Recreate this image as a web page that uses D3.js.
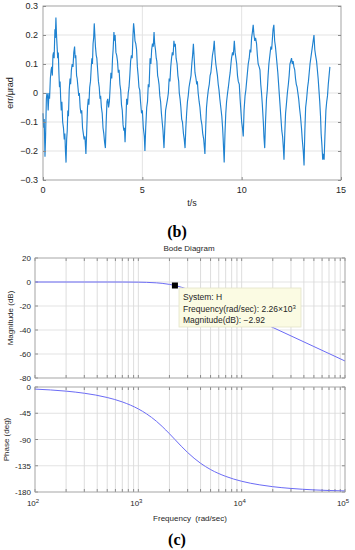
<!DOCTYPE html>
<html>
<head>
<meta charset="utf-8">
<script src="https://cdn.jsdelivr.net/npm/d3@7"></script>
<style>
  body { margin: 0; background: #fff; }
  text { font-family: "Liberation Sans", Arial, sans-serif; fill: #262626; }
</style>
</head>
<body>
<div id="chart"></div>
<script>

// (b) tracking error: [t (s), err (urad)]
var errPoints = [
  [0,-0.07],[0.03,-0.12],[0.06,-0.09],[0.1,-0.22],[0.13,-0.15],[0.17,-0.02],[0.2,0.0],[0.23,-0.01],[0.26,-0.06],[0.3,0.0],
  [0.33,-0.02],[0.37,0.05],[0.41,0.08],[0.44,0.09],[0.47,0.06],[0.5,0.13],[0.53,0.14],[0.56,0.12],[0.6,0.22],[0.62,0.19],
  [0.65,0.26],[0.68,0.2],[0.71,0.16],[0.74,0.12],[0.77,0.14],[0.8,0.07],[0.83,0.02],[0.86,0.04],[0.89,-0.02],[0.92,-0.06],
  [0.95,-0.03],[0.99,-0.1],[1.03,-0.12],[1.07,-0.16],[1.1,-0.14],[1.13,-0.2],[1.16,-0.24],[1.19,-0.16],[1.22,-0.13],[1.25,-0.06],
  [1.28,-0.08],[1.32,0.01],[1.36,0.05],[1.39,0.03],[1.43,0.08],[1.47,0.1],[1.51,0.09],[1.55,0.14],[1.59,0.16],[1.62,0.12],
  [1.65,0.13],[1.69,0.06],[1.72,0.05],[1.76,0.02],[1.8,-0.01],[1.83,0.0],[1.87,-0.05],[1.91,-0.07],[1.95,-0.06],[1.99,-0.12],
  [2.03,-0.14],[2.07,-0.16],[2.11,-0.15],[2.16,-0.21],[2.2,-0.13],[2.24,-0.05],[2.28,-0.02],[2.31,-0.04],[2.35,0.02],[2.39,0.04],
  [2.43,0.09],[2.46,0.12],[2.49,0.1],[2.52,0.17],[2.55,0.19],[2.58,0.24],[2.61,0.2],[2.64,0.16],[2.68,0.13],[2.71,0.12],
  [2.75,0.08],[2.79,0.04],[2.83,0.02],[2.87,-0.02],[2.9,-0.01],[2.94,-0.05],[2.98,-0.07],[3.02,-0.12],[3.06,-0.14],[3.1,-0.17],
  [3.14,-0.19],[3.18,-0.1],[3.22,-0.03],[3.26,-0.02],[3.3,-0.05],[3.34,-0.03],[3.38,0.02],[3.42,0.07],[3.46,0.05],[3.5,0.12],
  [3.53,0.15],[3.57,0.21],[3.6,0.18],[3.63,0.2],[3.67,0.14],[3.71,0.13],[3.75,0.11],[3.79,0.07],[3.83,0.08],[3.87,0.03],
  [3.91,0.01],[3.95,-0.04],[3.99,-0.06],[4.03,-0.11],[4.07,-0.13],[4.1,-0.12],[4.13,-0.17],[4.17,-0.1],[4.21,-0.02],[4.25,-0.04],
  [4.29,0.0],[4.33,0.02],[4.37,0.06],[4.41,0.11],[4.45,0.13],[4.49,0.12],[4.53,0.2],[4.56,0.24],[4.59,0.22],[4.63,0.18],
  [4.67,0.17],[4.71,0.15],[4.75,0.09],[4.79,0.06],[4.83,0.02],[4.87,0.01],[4.91,-0.03],[4.96,-0.07],[5.0,-0.06],[5.05,-0.12],
  [5.1,-0.15],[5.13,-0.2],[5.17,-0.12],[5.22,-0.05],[5.26,-0.03],[5.3,0.03],[5.34,0.02],[5.39,0.12],[5.43,0.1],[5.47,0.15],
  [5.51,0.17],[5.55,0.16],[5.59,0.21],[5.62,0.17],[5.66,0.15],[5.7,0.12],[5.73,0.11],[5.77,0.06],[5.8,0.05],[5.84,0.03],
  [5.88,-0.01],[5.92,-0.03],[5.96,-0.07],[6.0,-0.1],[6.04,-0.13],[6.09,-0.19],[6.13,-0.12],[6.17,-0.06],[6.22,-0.04],[6.27,-0.02],
  [6.31,0.0],[6.35,0.05],[6.39,0.04],[6.43,0.09],[6.47,0.12],[6.51,0.14],[6.55,0.13],[6.59,0.18],[6.62,0.16],[6.66,0.17],
  [6.7,0.12],[6.75,0.1],[6.79,0.06],[6.83,0.04],[6.86,0.0],[6.9,-0.02],[6.94,-0.05],[6.98,-0.09],[7.02,-0.1],[7.07,-0.14],
  [7.11,-0.16],[7.15,-0.19],[7.19,-0.12],[7.23,-0.07],[7.27,-0.03],[7.31,-0.01],[7.35,0.02],[7.4,0.04],[7.45,0.06],[7.49,0.1],
  [7.53,0.13],[7.57,0.17],[7.61,0.12],[7.65,0.07],[7.7,0.05],[7.74,0.03],[7.77,0.04],[7.81,0.0],[7.86,-0.03],[7.9,-0.05],
  [7.95,-0.09],[8.0,-0.11],[8.04,-0.14],[8.09,-0.16],[8.15,-0.21],[8.19,-0.12],[8.23,-0.05],[8.27,-0.02],[8.32,0.01],[8.37,0.03],
  [8.41,0.06],[8.45,0.07],[8.49,0.1],[8.53,0.13],[8.58,0.15],[8.62,0.18],[8.66,0.13],[8.7,0.1],[8.74,0.08],[8.78,0.06],
  [8.82,0.03],[8.86,0.01],[8.9,-0.02],[8.95,-0.05],[9.0,-0.08],[9.04,-0.12],[9.07,-0.16],[9.12,-0.24],[9.16,-0.14],[9.2,-0.07],
  [9.24,-0.03],[9.29,0.0],[9.33,0.02],[9.38,0.05],[9.42,0.07],[9.46,0.1],[9.49,0.12],[9.54,0.14],[9.58,0.13],[9.63,0.18],
  [9.67,0.14],[9.71,0.12],[9.75,0.1],[9.79,0.06],[9.83,0.04],[9.88,0.03],[9.92,-0.02],[9.96,-0.06],[10.0,-0.1],[10.04,-0.12],
  [10.08,-0.15],[10.12,-0.06],[10.17,-0.01],[10.21,0.01],[10.25,0.04],[10.29,0.07],[10.33,0.1],[10.38,0.12],[10.42,0.15],[10.46,0.14],
  [10.5,0.19],[10.54,0.21],[10.58,0.235],[10.62,0.2],[10.66,0.18],[10.7,0.19],[10.75,0.17],[10.79,0.13],[10.83,0.1],[10.88,0.09],
  [10.92,0.08],[10.96,0.03],[11.0,0.0],[11.04,-0.04],[11.09,-0.1],[11.12,-0.15],[11.16,-0.19],[11.2,-0.1],[11.25,-0.02],[11.29,0.01],
  [11.33,0.06],[11.37,0.1],[11.42,0.13],[11.47,0.16],[11.51,0.15],[11.55,0.19],[11.58,0.22],[11.62,0.235],[11.66,0.18],[11.7,0.16],
  [11.74,0.13],[11.78,0.1],[11.82,0.07],[11.86,0.03],[11.9,-0.01],[11.94,-0.05],[11.98,-0.09],[12.02,-0.13],[12.06,-0.15],[12.1,-0.19],
  [12.13,-0.23],[12.17,-0.14],[12.21,-0.07],[12.25,-0.04],[12.3,0.0],[12.35,0.03],[12.39,0.06],[12.43,0.1],[12.47,0.11],[12.51,0.12],
  [12.55,0.1],[12.59,0.11],[12.63,0.09],[12.67,0.08],[12.71,0.05],[12.75,0.03],[12.79,0.02],[12.83,0.0],[12.87,-0.02],[12.91,-0.05],
  [12.96,-0.08],[13.01,-0.12],[13.05,-0.16],[13.1,-0.2],[13.14,-0.25],[13.18,-0.13],[13.22,-0.05],[13.27,-0.02],[13.32,0.02],[13.36,0.04],
  [13.4,0.07],[13.44,0.1],[13.48,0.12],[13.52,0.14],[13.56,0.16],[13.6,0.18],[13.64,0.2],[13.68,0.15],[13.72,0.13],[13.77,0.11],
  [13.81,0.08],[13.85,0.05],[13.89,0.01],[13.93,-0.03],[13.97,-0.08],[14.0,-0.14],[14.04,-0.18],[14.08,-0.23],[14.11,-0.21],[14.15,-0.23],
  [14.19,-0.15],[14.24,-0.06],[14.28,-0.03],[14.32,-0.01],[14.36,0.03],[14.4,0.06],[14.44,0.09]
];
var errXTicks = [0, 5, 10, 15];
var errYTicks = [0.3, 0.2, 0.1, 0, -0.1, -0.2, -0.3];

// (c) Bode diagram of H
var bodeFreq = [100, 200, 300, 500, 700, 1000, 1200, 1500, 1700, 2000, 2260, 2600, 3000, 4000, 5000, 7000, 10000, 15000, 20000, 30000, 50000, 100000];
var magDb    = [0, 0, 0, 0, -0.02, -0.13, -0.29, -0.71, -1.13, -1.99, -2.92, -4.31, -6.06, -10.29, -13.94, -19.67, -25.84, -32.88, -37.88, -44.92, -53.79, -65.84];
var phaseDeg = [-3.6, -7.1, -10.7, -18.0, -25.6, -37.6, -46.0, -58.9, -67.6, -80.1, -90, -101.4, -112.3, -130.7, -141.5, -153.2, -161.6, -167.8, -170.9, -173.9, -176.4, -178.2];
var magTicks = [20, 0, -20, -40, -60, -80];
var phaseTicks = [0, -45, -90, -135, -180];
var decadeTicks = [100, 1000, 10000, 100000];
var dataTip = {freq: 2260, mag: -2.92, lines: ["System: H", "Frequency(rad/sec): 2.26\u00d710", "Magnitude(dB): \u22122.92"]};

var svg = d3.select("#chart").append("svg")
    .attr("width", 355)
    .attr("height", 550);

svg.append("rect").attr("width", 355).attr("height", 550).attr("fill", "#fff");

var minus = function (v) { return String(v).replace("-", "\u2212"); };

// ---------- (b) time plot ----------
var tx = d3.scaleLinear().domain([0, 15]).range([43, 341]);
var ty = d3.scaleLinear().domain([-0.3, 0.3]).range([180, 6]);

var errPlot = svg.append("g");

errPlot.selectAll(".gx").data(errXTicks.slice(1, -1)).enter().append("line")
    .attr("x1", tx).attr("x2", tx).attr("y1", 6).attr("y2", 180)
    .attr("stroke", "#e3e3e3");
errPlot.selectAll(".gy").data(errYTicks.slice(1, -1)).enter().append("line")
    .attr("y1", ty).attr("y2", ty).attr("x1", 43).attr("x2", 341)
    .attr("stroke", "#e3e3e3");

errPlot.append("path")
    .datum(errPoints)
    .attr("fill", "none")
    .attr("stroke", "#1f82d0")
    .attr("stroke-width", 1.15)
    .attr("d", d3.line().x(function (d) { return tx(d[0]); }).y(function (d) { return ty(d[1]); }));

errPlot.append("rect").attr("x", 43).attr("y", 6).attr("width", 298).attr("height", 174)
    .attr("fill", "none").attr("stroke", "#8c8c8c").attr("stroke-width", 0.8);

// inward ticks
errPlot.append("g").attr("transform", "translate(0,180)")
    .call(d3.axisBottom(tx).tickValues(errXTicks).tickSize(-3).tickFormat(""))
    .call(function (g) { g.select(".domain").remove(); g.selectAll("line").attr("stroke", "#8c8c8c"); });
errPlot.append("g").attr("transform", "translate(43,0)")
    .call(d3.axisLeft(ty).tickValues(errYTicks).tickSize(-3).tickFormat(""))
    .call(function (g) { g.select(".domain").remove(); g.selectAll("line").attr("stroke", "#8c8c8c"); });
errPlot.append("g").attr("transform", "translate(341,0)")
    .call(d3.axisRight(ty).tickValues(errYTicks).tickSize(-3).tickFormat(""))
    .call(function (g) { g.select(".domain").remove(); g.selectAll("line").attr("stroke", "#8c8c8c"); });

errPlot.selectAll(".ylab").data(errYTicks).enter().append("text")
    .attr("x", 38).attr("y", function (d) { return ty(d) + 3; })
    .attr("text-anchor", "end").attr("font-size", 9)
    .text(function (d) { return minus(d); });
errPlot.selectAll(".xlab").data(errXTicks).enter().append("text")
    .attr("x", tx).attr("y", 193)
    .attr("text-anchor", "middle").attr("font-size", 9)
    .text(function (d) { return d; });

errPlot.append("text").attr("x", 192).attr("y", 206).attr("text-anchor", "middle")
    .attr("font-size", 9).text("t/s");
errPlot.append("text").attr("transform", "translate(13,93) rotate(-90)")
    .attr("text-anchor", "middle").attr("font-size", 9).text("err/\u03bcrad");

svg.append("text").attr("x", 177).attr("y", 237).attr("text-anchor", "middle")
    .attr("font-size", 16).attr("font-weight", "bold")
    .style("font-family", "'Liberation Serif', serif").style("fill", "#000").text("(b)");

// ---------- (c) Bode ----------
var fx = d3.scaleLog().domain([100, 100000]).range([35, 345]);
var my = d3.scaleLinear().domain([-80, 20]).range([378, 258]);
var py = d3.scaleLinear().domain([-180, 0]).range([492, 387]);

var minorFreq = [];
decadeTicks.slice(0, -1).forEach(function (d) {
    for (var k = 2; k <= 9; k++) minorFreq.push(d * k);
});
var allFreq = decadeTicks.concat(minorFreq);

svg.append("text").attr("x", 189).attr("y", 251).attr("text-anchor", "middle")
    .attr("font-size", 8).text("Bode Diagram");

function bodePanel(yScale, ticks, y0, y1, label, values, labelX) {
    var g = svg.append("g");

    g.selectAll(".vg").data(allFreq).enter().append("line")
        .attr("x1", fx).attr("x2", fx).attr("y1", y0).attr("y2", y1)
        .attr("stroke", "#d4d4d4").attr("stroke-width", 0.8);
    g.selectAll(".hg").data(ticks).enter().append("line")
        .attr("x1", 35).attr("x2", 345).attr("y1", yScale).attr("y2", yScale)
        .attr("stroke", "#dcdcdc").attr("stroke-width", 0.8);

    // ticks on all sides
    g.selectAll(".tt").data(allFreq).enter().append("line")
        .attr("x1", fx).attr("x2", fx).attr("y1", y0).attr("y2", y0 + 3)
        .attr("stroke", "#666").attr("stroke-width", 0.7);
    g.selectAll(".tb").data(allFreq).enter().append("line")
        .attr("x1", fx).attr("x2", fx).attr("y1", y1).attr("y2", y1 - 3)
        .attr("stroke", "#666").attr("stroke-width", 0.7);
    g.selectAll(".tl").data(ticks).enter().append("line")
        .attr("x1", 35).attr("x2", 38).attr("y1", yScale).attr("y2", yScale)
        .attr("stroke", "#666").attr("stroke-width", 0.7);
    g.selectAll(".tr").data(ticks).enter().append("line")
        .attr("x1", 342).attr("x2", 345).attr("y1", yScale).attr("y2", yScale)
        .attr("stroke", "#666").attr("stroke-width", 0.7);

    g.append("path")
        .datum(d3.zip(bodeFreq, values))
        .attr("fill", "none").attr("stroke", "#6b6bf5").attr("stroke-width", 1)
        .attr("d", d3.line().curve(d3.curveMonotoneX)
            .x(function (d) { return fx(d[0]); }).y(function (d) { return yScale(d[1]); }));

    g.append("rect").attr("x", 35).attr("y", y0).attr("width", 310).attr("height", y1 - y0)
        .attr("fill", "none").attr("stroke", "#a6a6a6").attr("stroke-width", 0.8);

    g.selectAll(".yl").data(ticks).enter().append("text")
        .attr("x", 31).attr("y", function (d) { return yScale(d) + 3; })
        .attr("text-anchor", "end").attr("font-size", 8)
        .text(function (d) { return d; });

    g.append("text").attr("transform", "translate(" + labelX + "," + ((y0 + y1) / 2) + ") rotate(-90)")
        .attr("text-anchor", "middle").attr("font-size", 8).text(label);
    return g;
}

bodePanel(my, magTicks, 258, 378, "Magnitude (dB)", magDb, 13);
bodePanel(py, phaseTicks, 387, 492, "Phase (deg)", phaseDeg, 9);

// frequency labels 10^n
var fl = svg.selectAll(".fl").data(decadeTicks).enter().append("text")
    .attr("x", function (d) { return fx(d) - 2; }).attr("y", 506)
    .attr("text-anchor", "middle").attr("font-size", 8);
fl.append("tspan").text("10");
fl.append("tspan").attr("dy", -3).attr("font-size", 6)
    .text(function (d) { return Math.round(Math.log10(d)); });

svg.append("text").attr("x", 190).attr("y", 521).attr("text-anchor", "middle")
    .attr("font-size", 8).attr("xml:space", "preserve").text("Frequency  (rad/sec)");

// data tip
svg.append("rect")
    .attr("x", fx(dataTip.freq) - 3).attr("y", my(dataTip.mag) - 3)
    .attr("width", 6).attr("height", 6).attr("fill", "#000");

var tip = svg.append("g");
tip.append("rect").attr("x", 179).attr("y", 288).attr("width", 122).attr("height", 39)
    .attr("fill", "#fbfbe3").attr("stroke", "#e4e4c8").attr("stroke-width", 0.8);
var tipText = tip.selectAll(".tip").data(dataTip.lines).enter().append("text")
    .attr("x", 183).attr("y", function (d, i) { return 300 + i * 11.5; })
    .attr("font-size", 8.5)
    .text(function (d) { return d; });
tipText.filter(function (d, i) { return i === 1; })
    .append("tspan").attr("dy", -3).attr("font-size", 6).text("3");

svg.append("text").attr("x", 177).attr("y", 545).attr("text-anchor", "middle")
    .attr("font-size", 16).attr("font-weight", "bold")
    .style("font-family", "'Liberation Serif', serif").style("fill", "#000").text("(c)");

</script>
</body>
</html>
